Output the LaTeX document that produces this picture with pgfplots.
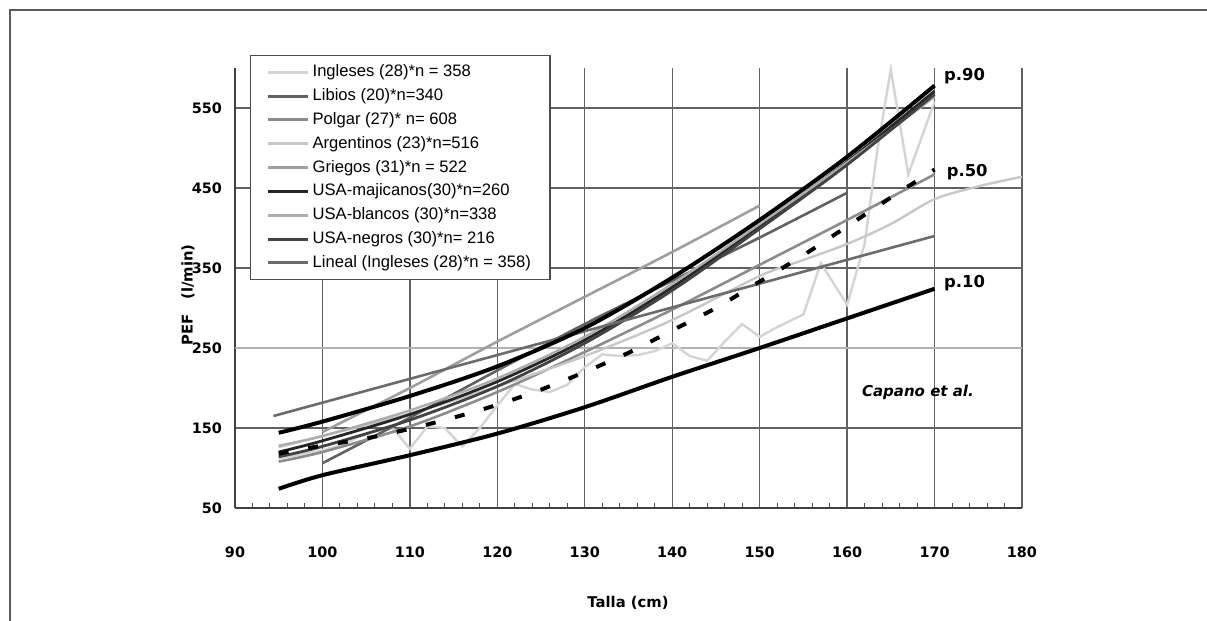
\documentclass[border=0pt]{standalone}
\usepackage{fontspec}
\setmainfont{Liberation Sans}
\newfontfamily\dvs{DejaVu Sans}
\usepackage{pgfplots}
\pgfplotsset{compat=1.18}
\definecolor{cIng}{gray}{0.83}
\definecolor{cLib}{gray}{0.38}
\definecolor{cPol}{gray}{0.55}
\definecolor{cArg}{gray}{0.78}
\definecolor{cGri}{gray}{0.62}
\definecolor{cMej}{gray}{0.15}
\definecolor{cBla}{gray}{0.68}
\definecolor{cNeg}{gray}{0.26}
\definecolor{cLin}{gray}{0.42}
\begin{document}
\begin{tikzpicture}
\path[use as bounding box] (-117.5pt,-56.5pt) rectangle (486pt,254pt);
\draw[black!65, line width=0.6pt] (-112.5pt,-56.5pt) -- (-112.5pt,249pt) -- (486pt,249pt);
\begin{axis}[
 at={(0pt,0pt)}, anchor=south west,
 scale only axis, width=393.5pt, height=220pt,
 xmin=90, xmax=180, ymin=50, ymax=600,
 axis x line=bottom, axis y line=left,
 axis line style={-, black!75, line width=0.7pt},
 xtick={90,100,...,180},
 ytick={50,150,350,450,550},
 extra y ticks={250},
 extra y tick style={major grid style={black!30, line width=0.7pt}},
 minor x tick num=4, minor y tick num=4,
 grid=major,
 major grid style={black!62, line width=0.7pt},
 tick align=inside,
 major tick length=0pt, minor tick length=2.5pt,
 tick style={black!70, line width=0.5pt},
 ticklabel style={font=\dvs\bfseries\fontsize{7.2}{8}\selectfont},
 /pgf/number format/assume math mode=true,
 xticklabel style={yshift=-16pt},
 yticklabel style={xshift=-3pt},
 xlabel={Talla (cm)}, ylabel={PEF\quad(l/min)},
 label style={font=\dvs\bfseries\fontsize{7.4}{8}\selectfont},
 xlabel style={at={(axis description cs:0.4994,-0.216)},anchor=center},
 ylabel style={at={(axis description cs:-0.0597,0.484)},anchor=center},
 legend style={at={(axis description cs:0.019,1.0295)}, anchor=north west,
   draw=black!70, line width=0.7pt, fill=white,
   font=\fontsize{8.3}{9}\selectfont, row sep=1.4pt, inner xsep=8pt, inner ysep=3pt,
   nodes={inner sep=1.5pt}},
 legend cell align=left,
 legend image code/.code={\draw[#1, line width=1.5pt] (0pt,0pt) -- (20pt,0pt);},
 clip=false,
]
\addplot[cIng, line width=1.2pt] coordinates {(95,112) (98,118) (100,122) (102,128) (104,138) (106,146) (108,150) (110,124) (112,152) (114,150) (116,127) (118,150) (120,178) (122,205) (124,198) (126,195) (128,204) (130,226) (132,242) (134,240) (136,241) (138,246) (140,256) (142,240) (144,234) (146,258) (148,280) (150,264) (152,276) (155,292) (157,356) (160,304) (162,380) (163.5,500) (165,598) (167,467) (170,558)};
\addlegendentry{Ingleses (28)*n = 358}
\addplot[cLib, line width=1.3pt, smooth] coordinates {(100,106) (110,163) (120,222) (130,280) (140,334) (150,388) (160,444)};
\addlegendentry{Libios (20)*n=340}
\addplot[cPol, line width=1.3pt, smooth] coordinates {(95,108) (100,120) (110,152) (120,195) (130,245) (140,298) (150,354) (160,410) (170,467)};
\addlegendentry{Polgar (27)* n= 608}
\addplot[cArg, line width=1.2pt, smooth] coordinates {(95,126) (100,140) (110,168) (120,202) (130,240) (140,285) (150,340) (155,360) (160,380) (165,405) (170,436) (175,452) (180,464)};
\addlegendentry{Argentinos (23)*n=516}
\addplot[cGri, line width=1.3pt, smooth] coordinates {(100,145) (110,200) (120,258) (130,314) (140,370) (150,428)};
\addlegendentry{Griegos (31)*n = 522}
\addplot[cMej, line width=1.4pt, smooth] coordinates {(95,120) (100,134) (110,167) (120,208) (130,260) (140,326) (150,403) (160,483) (170,571)};
\addlegendentry{USA-majicanos(30)*n=260}
\addplot[cBla, line width=1.2pt, smooth] coordinates {(95,128) (100,140) (110,172) (120,212) (130,264) (140,330) (150,405) (160,482) (170,564)};
\addlegendentry{USA-blancos (30)*n=338}
\addplot[cNeg, line width=1.4pt, smooth] coordinates {(95,114) (100,127) (110,160) (120,202) (130,256) (140,322) (150,399) (160,479) (170,567)};
\addlegendentry{USA-negros (30)*n= 216}
\addplot[cLin, line width=1.3pt] coordinates {(94.4,165) (170,390)};
\addlegendentry{Lineal (Ingleses (28)*n = 358)}
\addplot[black, line width=2pt, smooth, forget plot] coordinates {(95,144) (100,158) (110,190) (120,227) (130,275) (140,338) (150,410) (160,489) (170,578)};
\addplot[black, line width=2pt, smooth, dash pattern=on 5pt off 10pt, forget plot] coordinates {(95,118) (100,128) (105,137) (110,149) (115,163) (120,179) (125,198) (130,220) (135,244) (140,272) (145,300) (150,333) (155,366) (160,402) (165,438) (170,473)};
\addplot[black, line width=2pt, smooth, forget plot] coordinates {(95,74) (100,91) (110,116) (120,143) (130,176) (140,214) (150,250) (160,287) (170,324)};
\node[anchor=west, font=\dvs\bfseries\fontsize{8.2}{9}\selectfont] at (axis cs:170.3,590) {p.90};
\node[anchor=west, font=\dvs\bfseries\fontsize{8.2}{9}\selectfont] at (axis cs:170.6,470) {p.50};
\node[anchor=west, font=\dvs\bfseries\fontsize{8.2}{9}\selectfont] at (axis cs:170.3,331) {p.10};
\node[font=\dvs\bfseries\itshape\fontsize{7.5}{8}\selectfont] at (axis cs:168.1,194) {Capano et al.};
\end{axis}
\end{tikzpicture}
\end{document}
